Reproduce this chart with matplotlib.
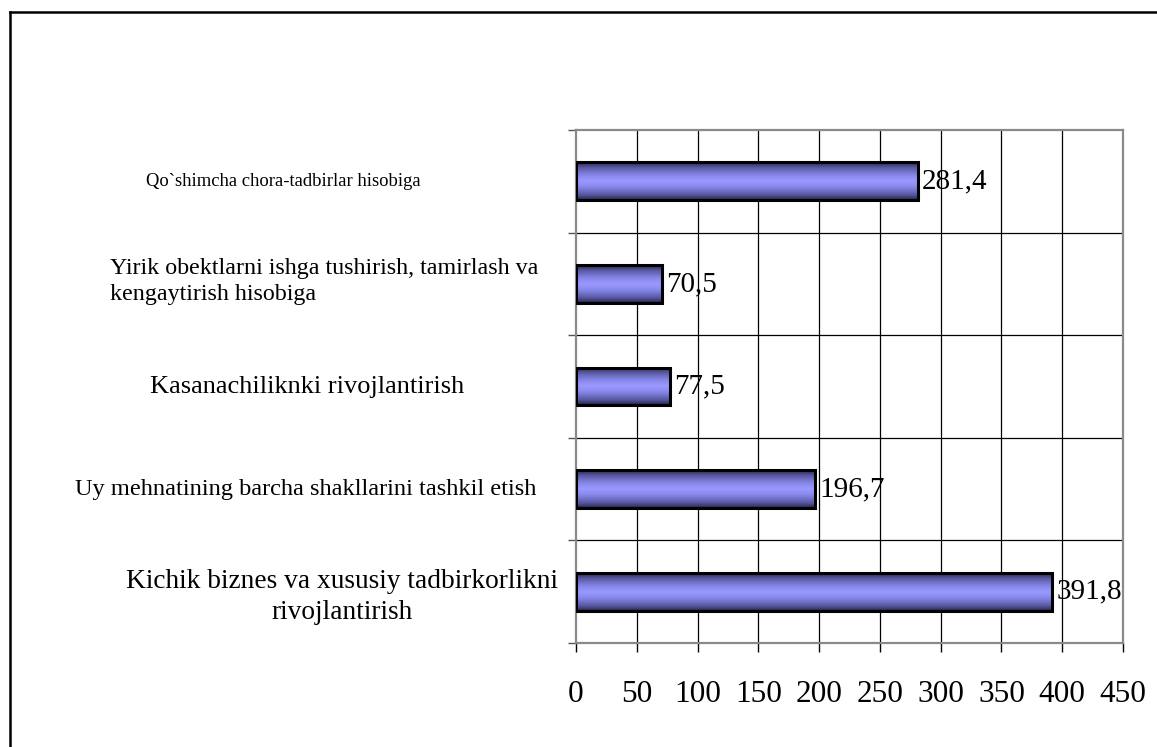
import numpy as np
import matplotlib
matplotlib.use("Agg")
import matplotlib.pyplot as plt
from matplotlib.colors import LinearSegmentedColormap
from matplotlib.lines import Line2D

plt.rcParams["font.family"] = ["Liberation Serif", "DejaVu Serif"]

# data, bottom to top
categories = [
    "Kichik biznes va xususiy tadbirkorlikni\nrivojlantirish",
    "Uy mehnatining barcha shakllarini tashkil etish",
    "Kasanachiliknki rivojlantirish",
    "Yirik obektlarni ishga tushirish, tamirlash va\nkengaytirish hisobiga",
    "Qo`shimcha chora-tadbirlar hisobiga",
]
values = [391.8, 196.7, 77.5, 70.5, 281.4]
value_labels = ["391,8", "196,7", "77,5", "70,5", "281,4"]
xticks = [0, 50, 100, 150, 200, 250, 300, 350, 400, 450]

# label styling: (font size, x in figure px, horizontal alignment, y shift)
label_style = [
    (19.7, 342, "center", -0.05),
    (17.6, 306, "center", 0.0),
    (19.0, 307, "center", 0.0),
    (17.3, 110, "left", 0.02),
    (13.4, 283, "center", 0.0),
]

W, H = 1157, 747
fig = plt.figure(figsize=(W / 100, H / 100), dpi=100)
ax = fig.add_axes([576 / W, 1 - 643 / H, (1123 - 576) / W, (643 - 130) / H])

ypos = np.arange(len(values))
bar_h = 0.37
bars = ax.barh(ypos, values, height=bar_h, facecolor="none",
               edgecolor="black", linewidth=2.2, zorder=4)

cmap = LinearSegmentedColormap.from_list(
    "bar3d", ["#26264d", "#55559c", "#7373cc", "#8c8cf0", "#9999ff",
              "#8c8cf0", "#7373cc", "#55559c", "#26264d"])
grad = np.linspace(0, 1, 64).reshape(-1, 1)
for b, y, v in zip(bars, ypos, values):
    im = ax.imshow(grad, extent=[0, v, y - bar_h / 2, y + bar_h / 2],
                   aspect="auto", cmap=cmap, zorder=3, interpolation="bilinear")
    im.set_clip_path(b)

for y, v, t in zip(ypos, values, value_labels):
    ax.annotate(t, (v, y), xytext=(3, 0), textcoords="offset points",
                va="center", ha="left", fontsize=21, zorder=5)

ax.set_xlim(0, 450)
ax.set_ylim(-0.5, len(values) - 0.5)
ax.set_xticks(xticks)
ax.set_xticklabels([str(t) for t in xticks], fontsize=22.5)
ax.tick_params(axis="x", length=6.5, width=1, color="black", pad=20)
ax.set_yticks(np.arange(-0.5, len(values), 1.0))
ax.set_yticklabels([])
ax.tick_params(axis="y", length=6, width=1, color="#555555")

for x in xticks[1:-1]:
    ax.axvline(x, color="black", lw=0.9, zorder=1)
for y in np.arange(0.5, len(values) - 1, 1.0):
    ax.axhline(y, color="black", lw=0.9, zorder=1)
for s in ax.spines.values():
    s.set_color("#8a8a8a")
    s.set_linewidth(1.6)

# category labels
trans = matplotlib.transforms.blended_transform_factory(fig.transFigure, ax.transData)
for y, txt, (fs, xpx, ha, dy) in zip(ypos, categories, label_style):
    ax.text(xpx / W, y + dy, txt, transform=trans, ha=ha, va="center",
            multialignment="center" if ha == "center" else "left",
            fontsize=fs, linespacing=1.3)

# outer frame (only top and left visible)
fig.add_artist(Line2D([10 / W, 10 / W], [0, 1 - 12 / H], color="black", lw=1.8))
fig.add_artist(Line2D([10 / W, 1], [1 - 12 / H, 1 - 12 / H], color="black", lw=1.8))

fig.savefig("out.png", dpi=100)
